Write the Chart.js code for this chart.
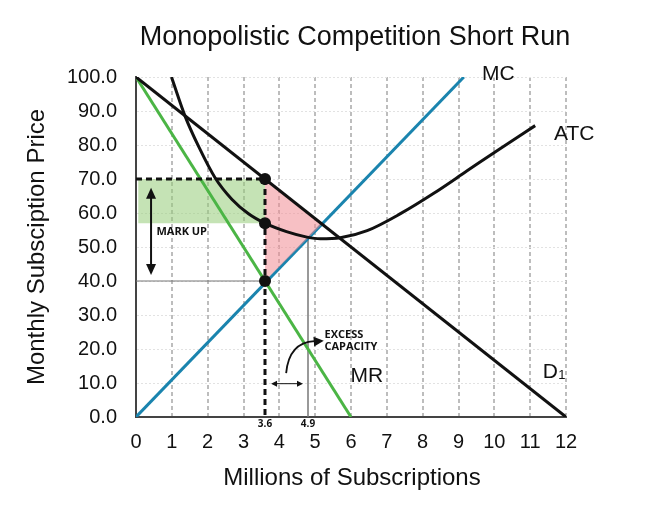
<!DOCTYPE html>
<html>
<head>
<meta charset="utf-8">
<script src="https://cdn.jsdelivr.net/npm/chart.js@4.4.1/dist/chart.umd.min.js"></script>
<style>
  html, body { margin: 0; padding: 0; background: #fff; }
  #wrap { width: 654px; height: 511px; }
</style>
</head>
<body>
<div id="wrap"><canvas id="chart" width="654" height="511"></canvas></div>
<script>
// tick labels
const xTicks = [0, 1, 2, 3, 4, 5, 6, 7, 8, 9, 10, 11, 12];
const yTicks = [0, 10, 20, 30, 40, 50, 60, 70, 80, 90, 100];

// curves (quantity in millions, price)
const demandX = [0, 12];
const demandY = [100, 0];
const mrX = [0, 6];
const mrY = [100, 0];
const mcX = [0, 9.15];
const mcY = [0, 100];
const atcX = [0.99, 1.38, 1.75, 2.21, 2.68, 3.14, 3.6, 4.2, 4.77, 5.14, 5.7, 6.45, 7.38, 8.31, 9.24, 10.17, 11.14];
const atcY = [100, 88.2, 79.5, 70.3, 64.0, 59.8, 57.0, 54.5, 52.9, 52.4, 52.7, 54.8, 59.8, 65.8, 72.4, 79.0, 85.7];

// equilibrium
const qStar = 3.6;
const priceStar = 70;
const atcStar = 57;
const mcStar = 40;
const qCapacity = 4.8;
const atcMin = 53;
const lossX = [3.6, 5.19, 3.6];
const lossY = [70, 56.7, 40];

const chartTitle = 'Monopolistic Competition Short Run';
const xTitle = 'Millions of Subscriptions';
const yTitle = 'Monthly Subsciption Price';

const pts = (xs, ys) => xs.map((x, i) => ({ x: x, y: ys[i] }));

const FONT = '"Liberation Sans", Arial, Helvetica, sans-serif';
const BOLD = '"Open Sans", "DejaVu Sans", sans-serif';

function arrowHead(ctx, x, y, ang, len, w) {
  const c = Math.cos(ang), s = Math.sin(ang);
  ctx.beginPath();
  ctx.moveTo(x, y);
  ctx.lineTo(x - len * c + w * s, y - len * s - w * c);
  ctx.lineTo(x - len * c - w * s, y - len * s + w * c);
  ctx.closePath();
  ctx.fill();
}

const notes = {
  id: 'notes',
  afterDraw(chart) {
    const { ctx, chartArea } = chart;
    const sx = chart.scales.x, sy = chart.scales.y;
    const px = v => sx.getPixelForValue(v);
    const py = v => sy.getPixelForValue(v);
    ctx.save();
    ctx.fillStyle = '#111';
    ctx.strokeStyle = '#111';
    ctx.textAlign = 'center';
    ctx.textBaseline = 'middle';

    // titles
    ctx.font = '27px ' + FONT;
    ctx.fillText(chartTitle, (chartArea.left + chartArea.right) / 2 + 4, 38);
    ctx.font = '24px ' + FONT;
    ctx.fillText(xTitle, (chartArea.left + chartArea.right) / 2 + 1, 478);
    ctx.save();
    ctx.translate(37, (chartArea.top + chartArea.bottom) / 2);
    ctx.rotate(-Math.PI / 2);
    ctx.fillText(yTitle, 0, 0);
    ctx.restore();

    // curve labels
    ctx.font = '21px ' + FONT;
    ctx.fillText('MC', px(10.11), py(100.8));
    ctx.fillText('ATC', px(12.23), py(83.3));
    ctx.fillText('MR', px(6.44), py(12));
    ctx.fillText('D', px(11.56), py(13.3));
    ctx.font = '13px ' + FONT;
    ctx.textAlign = 'left';
    ctx.fillText('1', px(11.56) + 8, py(13.3) + 4);

    // small bold notes
    ctx.font = 'bold 11px ' + BOLD;
    ctx.fillText('MARK UP', px(0.57), py(54.5));
    ctx.fillText('EXCESS', px(5.26), py(24.1));
    ctx.fillText('CAPACITY', px(5.26), py(20.6));
    ctx.textAlign = 'center';
    ctx.font = 'bold 10px ' + BOLD;
    ctx.fillText(String(qStar), px(qStar), chartArea.bottom + 7);
    ctx.fillText('4.9', px(qCapacity), chartArea.bottom + 7);

    // mark up arrow
    const ax = px(0.42), aTop = py(67.4), aBot = py(41.8);
    ctx.lineWidth = 2;
    ctx.beginPath();
    ctx.moveTo(ax, aTop + 8);
    ctx.lineTo(ax, aBot - 8);
    ctx.stroke();
    arrowHead(ctx, ax, aTop, -Math.PI / 2, 11, 5);
    arrowHead(ctx, ax, aBot, Math.PI / 2, 11, 5);

    // excess capacity arrow
    const hy = py(9.8), hl = px(3.77), hr = px(4.66);
    ctx.lineWidth = 1;
    ctx.beginPath();
    ctx.moveTo(hl + 3, hy);
    ctx.lineTo(hr - 3, hy);
    ctx.stroke();
    arrowHead(ctx, hl, hy, Math.PI, 6, 3);
    arrowHead(ctx, hr, hy, 0, 6, 3);

    // curved pointer
    ctx.lineWidth = 1.8;
    ctx.beginPath();
    ctx.moveTo(px(4.19), py(12.9));
    ctx.quadraticCurveTo(px(4.27), py(21.9), px(4.98), py(22.3));
    ctx.stroke();
    arrowHead(ctx, px(5.24), py(22.4), -0.08, 10, 5);

    ctx.restore();
  }
};

const line = (data, color, width, order, extra) => Object.assign({
  data: data,
  borderColor: color,
  borderWidth: width,
  pointRadius: 0,
  fill: false,
  tension: 0,
  order: order
}, extra || {});

new Chart(document.getElementById('chart'), {
  type: 'line',
  data: {
    datasets: [
      line(pts([0.06, qStar], [priceStar, priceStar]), 'rgba(0,0,0,0)', 0, 10,
        { fill: { value: atcStar }, backgroundColor: 'rgba(150,204,120,0.55)' }),
      line(pts(lossX, lossY), 'rgba(0,0,0,0)', 0, 4,
        { fill: 'shape', backgroundColor: 'rgba(240,140,148,0.55)' }),
      line(pts([0, qStar], [mcStar, mcStar]), '#777', 1.2, 8),
      line(pts([qCapacity, qCapacity], [0, atcMin]), '#777', 1.5, 8),
      line(pts(mrX, mrY), '#4bb545', 3, 6),
      line(pts(mcX, mcY), '#1a84ae', 3, 5),
      line(pts(demandX, demandY), '#111', 3, 3),
      line(pts(atcX, atcY), '#111', 3, 3, { cubicInterpolationMode: 'monotone' }),
      line(pts([0, qStar], [priceStar, priceStar]), '#111', 3, 2, { borderDash: [6, 4] }),
      line(pts([qStar, qStar], [priceStar, 0]), '#111', 3, 2, { borderDash: [6, 4] }),
      line(pts([qStar, qStar, qStar], [priceStar, atcStar, mcStar]), '#111', 0, 0,
        { showLine: false, pointRadius: 6, pointBackgroundColor: '#111', pointBorderWidth: 0 })
    ]
  },
  options: {
    responsive: false,
    animation: false,
    devicePixelRatio: 1,
    layout: { padding: { top: 77, right: 88, left: 0, bottom: 0 } },
    plugins: {
      legend: { display: false },
      tooltip: { enabled: false }
    },
    scales: {
      x: {
        type: 'linear',
        min: 0,
        max: 12,
        afterFit: s => { s.height = 94; },
        afterBuildTicks: s => { s.ticks = xTicks.map(v => ({ value: v })); },
        grid: { color: '#bdbdbd', lineWidth: 2, drawTicks: false },
        border: { color: '#444', width: 2, dash: [4, 3] },
        ticks: { color: '#111', padding: 13, font: { family: FONT, size: 20 } }
      },
      y: {
        type: 'linear',
        min: 0,
        max: 100,
        afterFit: s => { s.width = 136; },
        afterBuildTicks: s => { s.ticks = yTicks.map(v => ({ value: v })); },
        grid: { color: '#e2e2e2', lineWidth: 1, drawTicks: false },
        border: { color: '#444', width: 2, dash: [2, 2] },
        ticks: {
          color: '#111',
          padding: 19,
          font: { family: FONT, size: 20 },
          callback: v => Number(v).toFixed(1)
        }
      }
    }
  },
  plugins: [notes]
});
</script>
</body>
</html>
